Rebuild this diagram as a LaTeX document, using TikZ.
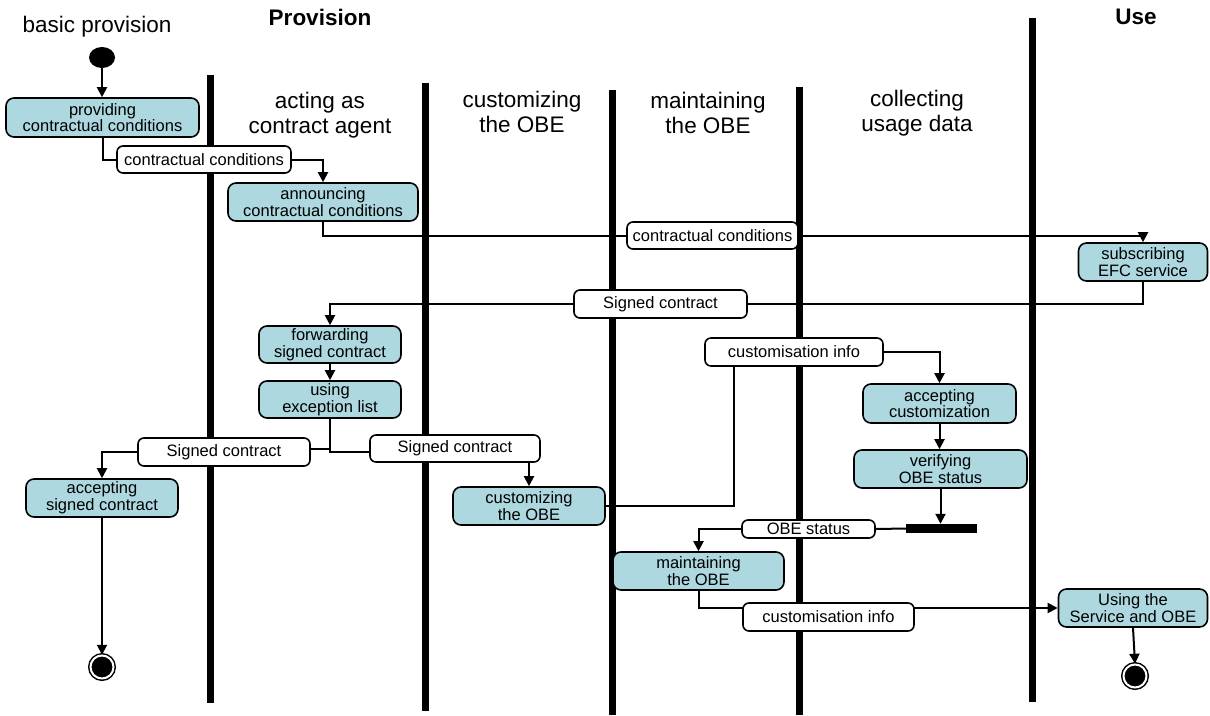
\documentclass[tikz,border=0pt]{standalone}
\usepackage{fontspec}
\setmainfont{Liberation Sans}
\usetikzlibrary{arrows.meta,shapes.geometric,backgrounds}
\definecolor{actblue}{RGB}{173,216,224}
\begin{document}
\begin{tikzpicture}[x=1pt,y=-1pt,
  act/.style={draw, line width=1.6pt, rounded corners=8pt, fill=actblue, inner sep=0pt, align=center, font=\fontsize{16.5}{16.8}\selectfont},
  obj/.style={draw, line width=1.6pt, rounded corners=6pt, fill=white, inner sep=0pt, align=center, font=\fontsize{16.5}{17}\selectfont},
  lane/.style={line width=7pt},
  flow/.style={line width=2pt},
  arr/.style={flow, -{Triangle[width=10pt,length=10pt]}},
  hdr/.style={align=center, font=\fontsize{22.5}{25}\selectfont},
  bhdr/.style={align=center, font=\fontsize{22.5}{25}\selectfont\bfseries},
  endn/.style={circle, fill=black, draw=black, line width=1.5pt, double=white, double distance=2pt, minimum size=23pt, inner sep=0pt},
]
\useasboundingbox (0,0) rectangle (1210,715);

% headers
\node[hdr] (hbasic) at (97,27) {basic provision};
\node[bhdr] (hprov) at (320,17) {Provision};
\node[bhdr] (huse) at (1136,17) {Use};
\node[hdr] (hagent) at (320,115) {acting as\\contract agent};
\node[hdr] (hcust) at (522,112) {customizing\\the OBE};
\node[hdr] (hmaint) at (708,113) {maintaining\\the OBE};
\node[hdr] (hcoll) at (917,113) {collecting\\usage data};

% start / end / bar
\node[ellipse, fill=black, minimum width=26pt, minimum height=21pt, inner sep=0pt] (start) at (102,57.5) {};
\node[endn] (end1) at (102,667) {};
\node[endn] (end2) at (1135,676) {};
\node[fill=black, minimum width=71pt, minimum height=9pt, inner sep=0pt] (bar) at (941.5,528.5) {};

% activities
\node[act, minimum width=193pt, minimum height=39pt] (prov) at (102.5,117.5) {providing\\contractual conditions};
\node[act, minimum width=190pt, minimum height=38pt] (annc) at (323,202) {announcing\\contractual conditions};
\node[act, minimum width=129pt, minimum height=38pt] (subs) at (1143,262) {subscribing\\EFC service};
\node[act, minimum width=142pt, minimum height=37pt] (fwd) at (330,344.5) {forwarding\\signed contract};
\node[act, minimum width=142pt, minimum height=37pt] (useex) at (330,399.5) {using\\exception list};
\node[act, minimum width=152pt, minimum height=38pt] (accsc) at (102,498) {accepting\\signed contract};
\node[act, minimum width=152pt, minimum height=38pt] (custobe) at (529,506) {customizing\\the OBE};
\node[act, minimum width=171pt, minimum height=38pt] (maint) at (698.5,571) {maintaining\\the OBE};
\node[act, minimum width=153pt, minimum height=39pt] (acccust) at (939.5,403.5) {accepting\\customization};
\node[act, minimum width=173pt, minimum height=38pt] (verif) at (940.5,469) {verifying\\OBE status};
\node[act, minimum width=149pt, minimum height=38pt] (usesvc) at (1133,608) {Using the\\Service and OBE};

% objects
\node[obj, minimum width=174pt, minimum height=27pt] (cc1) at (204,159.5) {contractual conditions};
\node[obj, minimum width=171pt, minimum height=27pt] (cc2) at (712.5,235.5) {contractual conditions};
\node[obj, minimum width=173pt, minimum height=28pt] (sc1) at (660.5,304) {Signed contract};
\node[obj, minimum width=178pt, minimum height=28pt] (ci1) at (794,352) {customisation info};
\node[obj, minimum width=172pt, minimum height=28pt] (sc2) at (224,452) {Signed contract};
\node[obj, minimum width=170pt, minimum height=27pt] (sc3) at (455,448.5) {Signed contract};
\node[obj, minimum width=133pt, minimum height=18pt] (obes) at (808.5,529) {OBE status};
\node[obj, minimum width=171pt, minimum height=28pt] (ci2) at (828.5,617) {customisation info};

\begin{scope}[on background layer]
  % swimlane separators
  \draw[lane] (210,75) -- (210,703);
  \draw[lane] (425,83) -- (425,711);
  \draw[lane] (612,90) -- (612,715);
  \draw[lane] (799,87) -- (799,715);
  \draw[lane] (1032,18) -- (1032,702);

  % flows
  \draw[arr] (start.south) -- (start.south |- prov.north);
  \draw[flow] (prov.south) |- (cc1.west);
  \draw[arr] (cc1.east) -| (annc.north);
  \draw[flow] (annc.south) |- (cc2.west);
  \draw[arr] (cc2.east) -| (subs.north);
  \draw[flow] (subs.south) |- (sc1.east);
  \draw[arr] (sc1.west) -| (fwd.north);
  \draw[arr] (fwd.south) -- (useex.north);
  \draw[flow] (useex.south) |- ([yshift=-3.5pt]sc3.west);
  \draw[flow] ([yshift=3pt]sc2.east) -| (useex.south);
  \draw[arr] (sc2.west) -| (accsc.north);
  \draw[arr] (sc3.south -| custobe.north) -- (custobe.north);
  \draw[arr] (accsc.south) -- (end1.north);
  \draw[flow] (custobe.east) -| ([xshift=-60pt]ci1.south);
  \draw[arr] (ci1.east) -| (acccust.north);
  \draw[arr] (acccust.south) -- (acccust.south |- verif.north);
  \draw[arr] (verif.south) -- (verif.south |- bar.north);
  \draw[flow] (bar.west) -- (obes.east);
  \draw[arr] (obes.west) -| (maint.north);
  \draw[arr] (maint.south) |- (usesvc.west);
  \draw[arr] (usesvc.south) -- (end2.north);
\end{scope}
\end{tikzpicture}
\end{document}
